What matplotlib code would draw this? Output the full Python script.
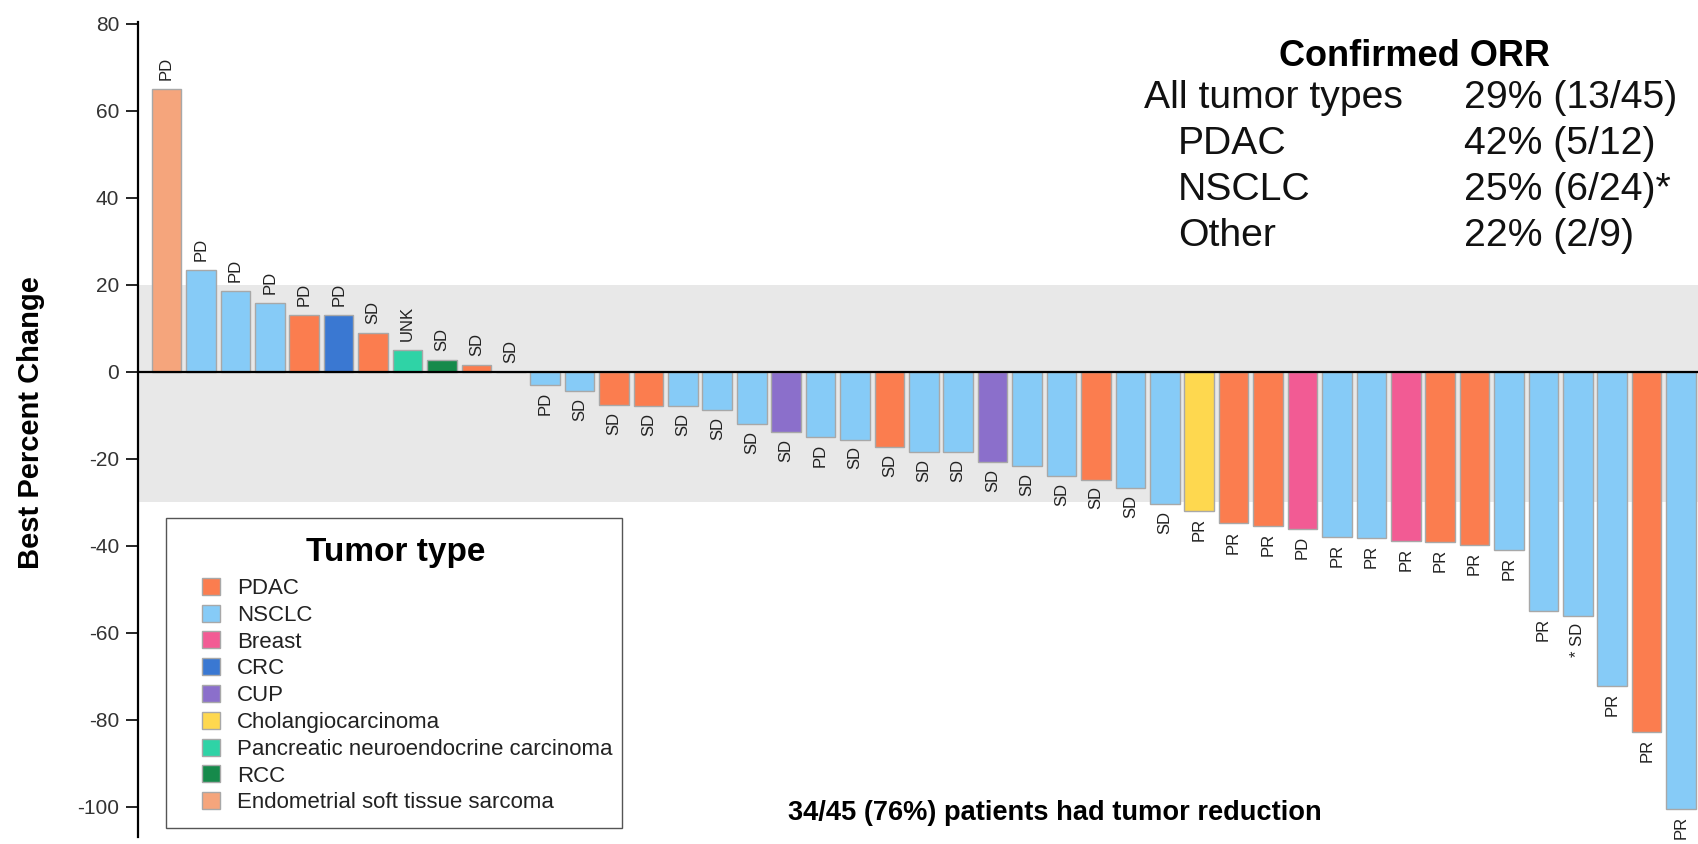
import matplotlib
matplotlib.use("Agg")
import matplotlib.pyplot as plt
from matplotlib.patches import Patch, Rectangle

plt.rcParams["font.family"] = ["Liberation Sans", "DejaVu Sans"]
plt.rcParams["axes.unicode_minus"] = False

# tumor types and colours
tumor_types = ["PDAC", "NSCLC", "Breast", "CRC", "CUP", "Cholangiocarcinoma",
               "Pancreatic neuroendocrine carcinoma", "RCC",
               "Endometrial soft tissue sarcoma"]
type_colors = ["#fb7d4f", "#86cbf7", "#f25b94", "#3a78d2", "#8b6fcb",
               "#fed84f", "#2fd3a6", "#168a4b", "#f5a57c"]

# one entry per patient, sorted by best percent change
values = [65, 23.4, 18.5, 15.8, 13.1, 13.0, 9.0, 5.0, 2.7, 1.5, 0,
          -3.1, -4.4, -7.6, -7.8, -8.0, -8.9, -12.0, -13.8, -15.1, -15.6,
          -17.3, -18.4, -18.5, -20.7, -21.8, -23.9, -24.8, -26.8, -30.4,
          -32.1, -34.9, -35.5, -36.2, -38.1, -38.3, -39.0, -39.1, -39.8,
          -40.9, -55.0, -56.2, -72.2, -82.8, -100.5]
patient_type = ["Endometrial soft tissue sarcoma", "NSCLC", "NSCLC", "NSCLC", "PDAC", "CRC",
                "PDAC", "Pancreatic neuroendocrine carcinoma", "RCC", "PDAC", "NSCLC",
                "NSCLC", "NSCLC", "PDAC", "PDAC", "NSCLC", "NSCLC", "NSCLC", "CUP",
                "NSCLC", "NSCLC", "PDAC", "NSCLC", "NSCLC", "CUP", "NSCLC", "NSCLC",
                "PDAC", "NSCLC", "NSCLC", "Cholangiocarcinoma", "PDAC", "PDAC", "Breast",
                "NSCLC", "NSCLC", "Breast", "PDAC", "PDAC", "NSCLC", "NSCLC", "NSCLC",
                "NSCLC", "PDAC", "NSCLC"]
responses = ["PD", "PD", "PD", "PD", "PD", "PD", "SD", "UNK", "SD", "SD", "SD",
             "PD", "SD", "SD", "SD", "SD", "SD", "SD", "SD", "PD", "SD",
             "SD", "SD", "SD", "SD", "SD", "SD", "SD", "SD", "SD",
             "PR", "PR", "PR", "PD", "PR", "PR", "PR", "PR", "PR",
             "PR", "PR", "* SD", "PR", "PR", "PR"]

orr_groups = ["All tumor types", "PDAC", "NSCLC", "Other"]
orr_values = ["29% (13/45)", "42% (5/12)", "25% (6/24)*", "22% (2/9)"]

color_of = dict(zip(tumor_types, type_colors))
colors = [color_of[t] for t in patient_type]
x = list(range(len(values)))

fig = plt.figure(figsize=(16.99, 8.44), dpi=100)
ax = fig.add_axes([0.0812, 0.0083, 0.9188, 0.9656])

ax.axhspan(-30, 20, color="#e8e8e8", zorder=0, lw=0)
ax.bar(x, values, width=0.86, color=colors, edgecolor="#a8a8a8",
       linewidth=1, zorder=2)
ax.axhline(0, color="black", lw=1.6, zorder=3)

for xi, v, r in zip(x, values, responses):
    if v >= 0:
        ax.annotate(r, (xi, v), xytext=(0, 6.5), textcoords="offset points",
                    rotation=90, ha="center", va="bottom", fontsize=12, color="#222")
    else:
        ax.annotate(r, (xi, v), xytext=(0, -5), textcoords="offset points",
                    rotation=90, ha="center", va="top", fontsize=12, color="#222")

ax.set_xlim(-0.83, 44.52)
ax.set_ylim(-107, 80.4)
ax.set_yticks(range(-100, 81, 20))
ax.tick_params(axis="y", labelsize=15, labelcolor="#333", length=8.5, width=1.2, pad=5)
ax.set_xticks([])
for s in ["top", "right", "bottom"]:
    ax.spines[s].set_visible(False)
ax.spines["left"].set_linewidth(1.6)
ax.set_ylabel("Best Percent Change", fontsize=21, fontweight="bold")
ax.yaxis.set_label_coords(-0.0595, 0.509)

# legend box
ax.add_patch(Rectangle((0.0179, 0.011), 0.2921, 0.380, transform=ax.transAxes,
                       fill=True, facecolor="white", edgecolor="#555", lw=1, zorder=4))
ax.text(0.1653, 0.3485, "Tumor type", transform=ax.transAxes, fontsize=24,
        fontweight="bold", ha="center", va="center", zorder=5)
handles = [Patch(facecolor=c, edgecolor="#a8a8a8", label=t)
           for t, c in zip(tumor_types, type_colors)]
leg = ax.legend(handles=handles, loc="upper left",
                bbox_to_anchor=(0.041, 0.318), frameon=False, fontsize=16,
                labelspacing=0.25, handlelength=0.8, handleheight=0.8,
                handletextpad=0.78, borderpad=0, borderaxespad=0)
leg.set_zorder(5)
for t in leg.get_texts():
    t.set_color("#222")

# ORR table
fig.text(1414 / 1699, 1 - 57 / 844, "Confirmed ORR", fontsize=26, fontweight="bold",
         ha="center", va="center")
row_y = [98, 144, 190, 236]
for i, (g, v) in enumerate(zip(orr_groups, orr_values)):
    gx = 1144 if i == 0 else 1178
    fig.text(gx / 1699, 1 - row_y[i] / 844, g, fontsize=28.2, ha="left", va="center", color="#111")
    fig.text(1464 / 1699, 1 - row_y[i] / 844, v, fontsize=28.2, ha="left", va="center", color="#111")

fig.text(788 / 1699, 1 - 813 / 844, "34/45 (76%) patients had tumor reduction",
         fontsize=19.6, fontweight="bold", ha="left", va="center")

fig.savefig("out.png", dpi=100)
